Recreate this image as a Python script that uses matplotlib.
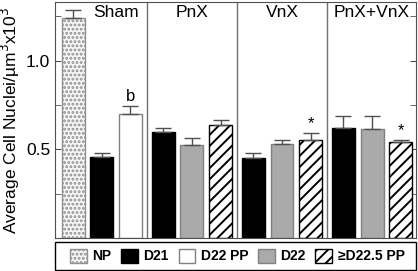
import matplotlib
matplotlib.use("Agg")
import matplotlib.pyplot as plt
from matplotlib.patches import Patch, Rectangle
from matplotlib.ticker import FixedLocator

plt.rcParams['font.family'] = ['Liberation Sans', 'DejaVu Sans']
plt.rcParams['hatch.linewidth'] = 1.4

# data
groups = ["Sham", "PnX", "VnX", "PnX+VnX"]
conditions = ["NP", "D21", "D22 PP", "D22", "\u2265D22.5 PP"]

# each bar: group index, slot in group, condition, mean, sem
bar_group = [0, 0, 0, 1, 1, 1, 2, 2, 2, 3, 3, 3]
bar_slot = [0, 1, 2, 0, 1, 2, 0, 1, 2, 0, 1, 2]
bar_cond = ["NP", "D21", "D22 PP", "D21", "D22", "\u2265D22.5 PP",
            "D21", "D22", "\u2265D22.5 PP", "D21", "D22", "\u2265D22.5 PP"]
means = [1.24, 0.455, 0.70, 0.60, 0.525, 0.635, 0.45, 0.53, 0.55, 0.62, 0.615, 0.54]
sems = [0.045, 0.025, 0.045, 0.02, 0.04, 0.03, 0.03, 0.02, 0.04, 0.07, 0.075, 0.015]
marks = {2: "b", 8: "*", 11: "*"}

styles = {
    "NP": dict(facecolor="#f6f6f6", edgecolor="#909090", hatch="...."),
    "D21": dict(facecolor="black", edgecolor="black", hatch=None),
    "D22 PP": dict(facecolor="white", edgecolor="#808080", hatch=None),
    "D22": dict(facecolor="#aaaaaa", edgecolor="#808080", hatch=None),
    "\u2265D22.5 PP": dict(facecolor="white", edgecolor="black", hatch="///"),
}

gstep = 3.14
W, H = 418, 271
fig = plt.figure(figsize=(W / 100, H / 100), dpi=100)
ax = fig.add_axes([55 / W, 33 / H, 361 / W, 236 / H])

xs = [g * gstep + s for g, s in zip(bar_group, bar_slot)]
for i, (x, m, e, c) in enumerate(zip(xs, means, sems, bar_cond)):
    st = styles[c]
    ax.bar(x, m, width=0.8, color=st["facecolor"], edgecolor=st["edgecolor"],
           hatch=st["hatch"], linewidth=1.0, zorder=2)
    ax.errorbar(x, m, yerr=[[0], [e]], fmt="none", ecolor="#505050",
                elinewidth=1.0, capsize=6, capthick=1.0, zorder=3)
    if i in marks:
        ax.text(x, m + e + 0.01, marks[i], ha="center", va="bottom", fontsize=12)

# group dividers and names
for g in range(1, len(groups)):
    ax.axvline((g - 1) * gstep + (2 + gstep) / 2, color="#707070", lw=1.0, zorder=1)
name_x = [1.5, gstep + 1, 2 * gstep + 1, 3 * gstep + 1]
for x, name in zip(name_x, groups):
    ax.text(x, 1.315, name, ha="center", va="top", fontsize=12.5)

ax.set_xlim(-0.63, 11.95)
ax.set_ylim(0, 1.33)
ax.set_xticks([])
ax.yaxis.set_major_locator(FixedLocator([0.5, 1.0]))
ax.yaxis.set_minor_locator(FixedLocator([0.25, 0.75, 1.25]))
ax.set_yticklabels(["0.5", "1.0"])
ax.tick_params(axis="y", which="both", direction="in", right=True, labelsize=12.5,
               color="#505050", length=4)
for sp in ax.spines.values():
    sp.set_color("#505050")
ax.set_ylabel("Average Cell Nuclei/\u00b5m$^3$x10$^3$", fontsize=12.5, labelpad=3)

# legend box across the bottom
fig.patches.append(Rectangle((55 / W, 1 / H), 361 / W, 28 / H, transform=fig.transFigure,
                             facecolor="white", edgecolor="black", linewidth=1.0))
handles = [Patch(facecolor=styles[c]["facecolor"], edgecolor=styles[c]["edgecolor"],
                 hatch=styles[c]["hatch"], label=c) for c in conditions]
leg = fig.legend(handles=handles, loc="center", ncol=5,
                 bbox_to_anchor=(237.5 / W, 15 / H),
                 prop={"weight": "bold", "size": 10}, frameon=False,
                 handlelength=1.2, handleheight=1.2, handletextpad=0.4,
                 borderaxespad=0, columnspacing=0.7, borderpad=0)

fig.savefig("out.png", dpi=100)
